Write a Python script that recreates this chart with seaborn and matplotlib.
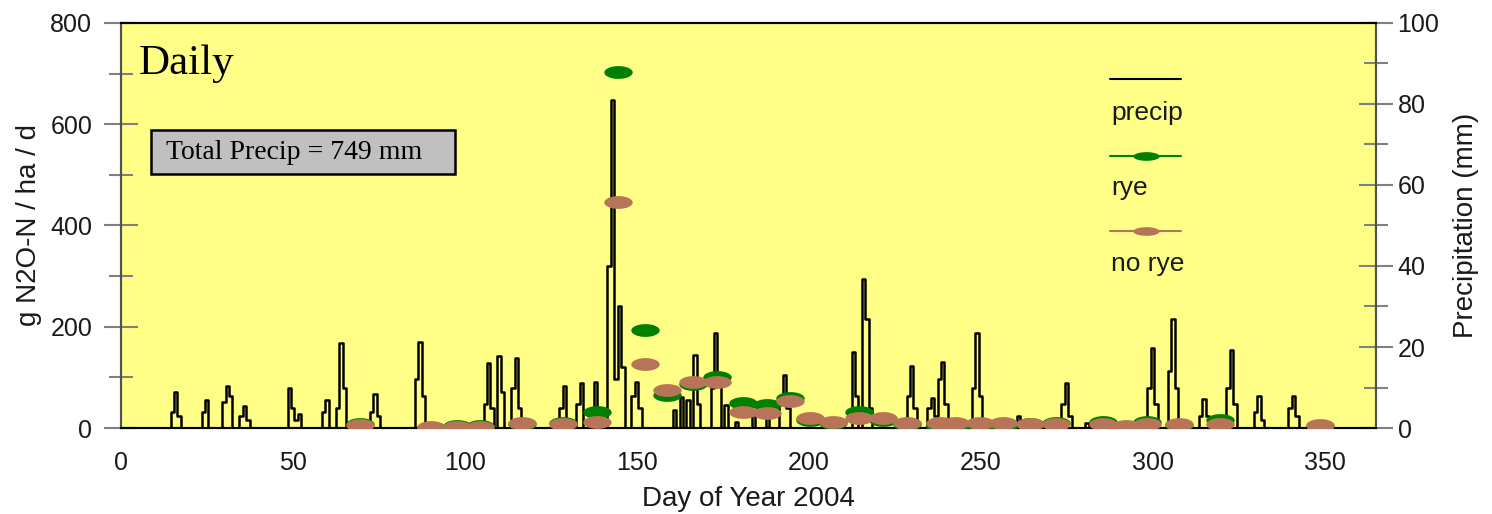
import numpy as np
import pandas as pd
import matplotlib
matplotlib.use("Agg")
import matplotlib.pyplot as plt
import seaborn as sns
from matplotlib.path import Path
from matplotlib.markers import MarkerStyle
from matplotlib.patches import Rectangle
from matplotlib.ticker import MultipleLocator

# ----------------------------------------------------------
# Data
# ----------------------------------------------------------

# daily precipitation (mm), only the days with rain
precip_days = [15, 16, 17, 24, 25, 30, 31, 32, 35, 36, 37, 49, 50, 51, 52,
               59, 60, 63, 64, 65, 73, 74, 75, 86, 87, 88,
               106, 107, 108, 110, 111, 114, 115, 116, 128, 129, 133, 134, 138, 139,
               142, 143, 144, 145, 146, 149, 150, 151, 161, 163, 165, 167, 168,
               172, 173, 174, 176, 179, 184, 188, 192, 193, 194,
               213, 214, 216, 217, 218, 229, 230, 231, 235, 236, 237, 238, 239, 240,
               248, 249, 250, 261, 274, 275, 276, 281,
               299, 300, 301, 305, 306, 307, 314, 315, 316, 322, 323, 324,
               330, 331, 332, 340, 341, 342]
precip_mm = [4, 9, 3, 4, 7, 6.4, 10.4, 8, 3, 5.4, 2, 9.9, 5, 2, 3.5,
             4, 7, 5, 21, 10, 4, 8.4, 3, 12, 21.3, 8,
             6, 16, 5, 17.8, 9, 10, 17.3, 5, 5, 10.4, 6, 11.1, 11.4, 4,
             40, 81, 12, 30, 15, 8, 11.4, 5, 4.4, 7.7, 7, 18, 6,
             10, 23.4, 12, 5.7, 1.5, 4, 4, 8, 13, 5,
             18.8, 8, 36.8, 27, 5, 8, 15.3, 5, 5, 7.4, 3, 12, 16.3, 6,
             10, 23.4, 8, 3, 6, 11, 3, 1.2,
             10, 19.8, 6, 14, 26.9, 10, 3, 7.2, 3, 10, 19.3, 6,
             4, 7.9, 2, 5, 7.9, 3]

# N2O flux sampling days (g N2O-N / ha / d)
flux_days = [69.6, 90.2, 97.8, 104.4, 116.7, 128.6, 138.5, 144.6, 152.4, 158.8,
             166.4, 173.3, 180.9, 187.9, 194.6, 200.4, 207.1, 214.6, 221.6, 228.6,
             238.2, 242.5, 249.8, 256.5, 264.3, 271.9, 285.6, 292.2, 298.4, 307.6,
             319.6, 348.6]
rye = [8, 1, 4, 4, 8, 10, 32, 703, 194, 65,
       87, 101, 49, 45, 60, 16, 10, 32, 16, 8,
       3, 3, 8, 4, 8, 10, 12, 2, 12, 6,
       16, 4]
no_rye = [5, 2, 2, 2, 10, 8, 12, 446, 126, 75,
          90, 91, 32, 30, 53, 20, 12, 20, 20, 10,
          10, 10, 10, 10, 8, 8, 8, 4, 8, 8,
          8, 6]

total_precip = 749

# ----------------------------------------------------------
# Tables
# ----------------------------------------------------------

days = np.arange(0, 367)
rain = np.zeros(len(days))
rain[precip_days] = precip_mm
precip_df = pd.DataFrame({"day": days, "precip": rain})
flux_df = pd.DataFrame({"day": flux_days, "rye": rye, "no_rye": no_rye})

# ----------------------------------------------------------
# Style
# ----------------------------------------------------------

sns.set_style("white")
plt.rcParams["font.family"] = ["Liberation Sans", "DejaVu Sans"]

yellow = "#FFFF88"
green = "#008000"
brown = "#B87458"
tick_gray = "#808080"
text_col = "#1a1a1a"

# wide ellipse marker like the original
t = np.linspace(0, 2 * np.pi, 40)
ellipse = MarkerStyle(Path(np.column_stack([np.cos(t), 0.45 * np.sin(t)])))
flat_ellipse = MarkerStyle(Path(np.column_stack([np.cos(t), 0.33 * np.sin(t)])))

fig = plt.figure(figsize=(14.92, 5.14), dpi=100)
ax2 = fig.add_axes([0.0809, 0.1673, 0.8414, 0.788])
ax = ax2.twinx()
ax.yaxis.set_label_position("left")
ax.yaxis.tick_left()
ax2.yaxis.set_label_position("right")
ax2.yaxis.tick_right()

ax2.set_facecolor(yellow)
ax.patch.set_visible(False)
ax.set_zorder(ax2.get_zorder() + 1)

# ----------------------------------------------------------
# Precipitation (right axis)
# ----------------------------------------------------------

sns.lineplot(data=precip_df, x="day", y="precip", ax=ax2, color="black",
             linewidth=1.8, drawstyle="steps-mid", legend=False)
ax2.set_ylim(0, 100)
ax2.set_xlim(0, 365)
ax2.set_ylabel("Precipitation (mm)", fontsize=20, labelpad=10, color=text_col)
ax2.set_xlabel("Day of Year 2004", fontsize=20, labelpad=8, color=text_col)
ax2.yaxis.set_major_locator(MultipleLocator(20))
ax2.yaxis.set_minor_locator(MultipleLocator(10))
ax2.xaxis.set_major_locator(MultipleLocator(50))
ax2.xaxis.set_minor_locator(MultipleLocator(25))

# ----------------------------------------------------------
# N2O flux (left axis)
# ----------------------------------------------------------

sns.scatterplot(data=flux_df, x="day", y="rye", ax=ax, color=green, marker=ellipse,
                s=420, linewidth=0, zorder=3)
sns.scatterplot(data=flux_df, x="day", y="no_rye", ax=ax, color=brown, marker=ellipse,
                s=420, linewidth=0, zorder=4)
ax.set_ylim(0, 800)
ax.set_xlim(0, 365)
ax.set_ylabel("g N2O-N / ha / d", fontsize=20, labelpad=6, color=text_col)
ax.set_xlabel("")
ax.yaxis.set_major_locator(MultipleLocator(200))
ax.yaxis.set_minor_locator(MultipleLocator(100))

# ticks
for a in (ax, ax2):
    a.tick_params(axis="y", which="major", direction="inout", length=25,
                  width=1.5, color=tick_gray, labelsize=18, labelcolor=text_col, pad=3)
    a.tick_params(axis="y", which="minor", direction="inout", length=17,
                  width=1.5, color=tick_gray)
    a.tick_params(axis="x", which="major", direction="inout", length=9.5,
                  width=1.5, color=tick_gray, labelsize=18, labelcolor=text_col, pad=12)
    a.tick_params(axis="x", which="minor", direction="inout", length=6.5,
                  width=1.5, color=tick_gray)
    for side in ("left", "right"):
        a.spines[side].set_color("#505050")
        a.spines[side].set_linewidth(1.5)
    for side in ("top", "bottom"):
        a.spines[side].set_color("black")
        a.spines[side].set_linewidth(1.5)
ax.tick_params(axis="x", which="both", bottom=False, labelbottom=False)
ax.tick_params(axis="y", which="major", pad=8)

# ----------------------------------------------------------
# Annotations
# ----------------------------------------------------------

ax.text(0.014, 0.899, "Daily", transform=ax.transAxes, fontsize=31,
        family=["Liberation Serif"], va="center", ha="left", color="black")

ax.add_patch(Rectangle((0.0245, 0.627), 0.2415, 0.109, transform=ax.transAxes,
                       facecolor="#C0C0C0", edgecolor="black", linewidth=1.8, zorder=5))
ax.text(0.036, 0.681, f"Total Precip = {total_precip} mm", transform=ax.transAxes,
        fontsize=20, family=["Liberation Serif"], va="center", ha="left", zorder=6,
        color="black")

# legend drawn by hand: handle above the label
leg_x = [0.788, 0.845]
leg_items = [("precip", "black", None, 0.862, 0.778),
             ("rye", green, green, 0.672, 0.593),
             ("no rye", brown, brown, 0.486, 0.405)]
for label, lc, mc, y_line, y_text in leg_items:
    ax.plot(leg_x, [y_line, y_line], color=lc, linewidth=1.5,
            transform=ax.transAxes, clip_on=False)
    if mc is not None:
        ax.plot([sum(leg_x) / 2], [y_line], marker=flat_ellipse, markersize=19,
                color=mc, markeredgewidth=0, transform=ax.transAxes)
    ax.text(leg_x[0] + 0.001, y_text, label, transform=ax.transAxes,
            fontsize=19, va="center", ha="left", color=text_col)

fig.savefig("out.png", dpi=100, facecolor="white")
